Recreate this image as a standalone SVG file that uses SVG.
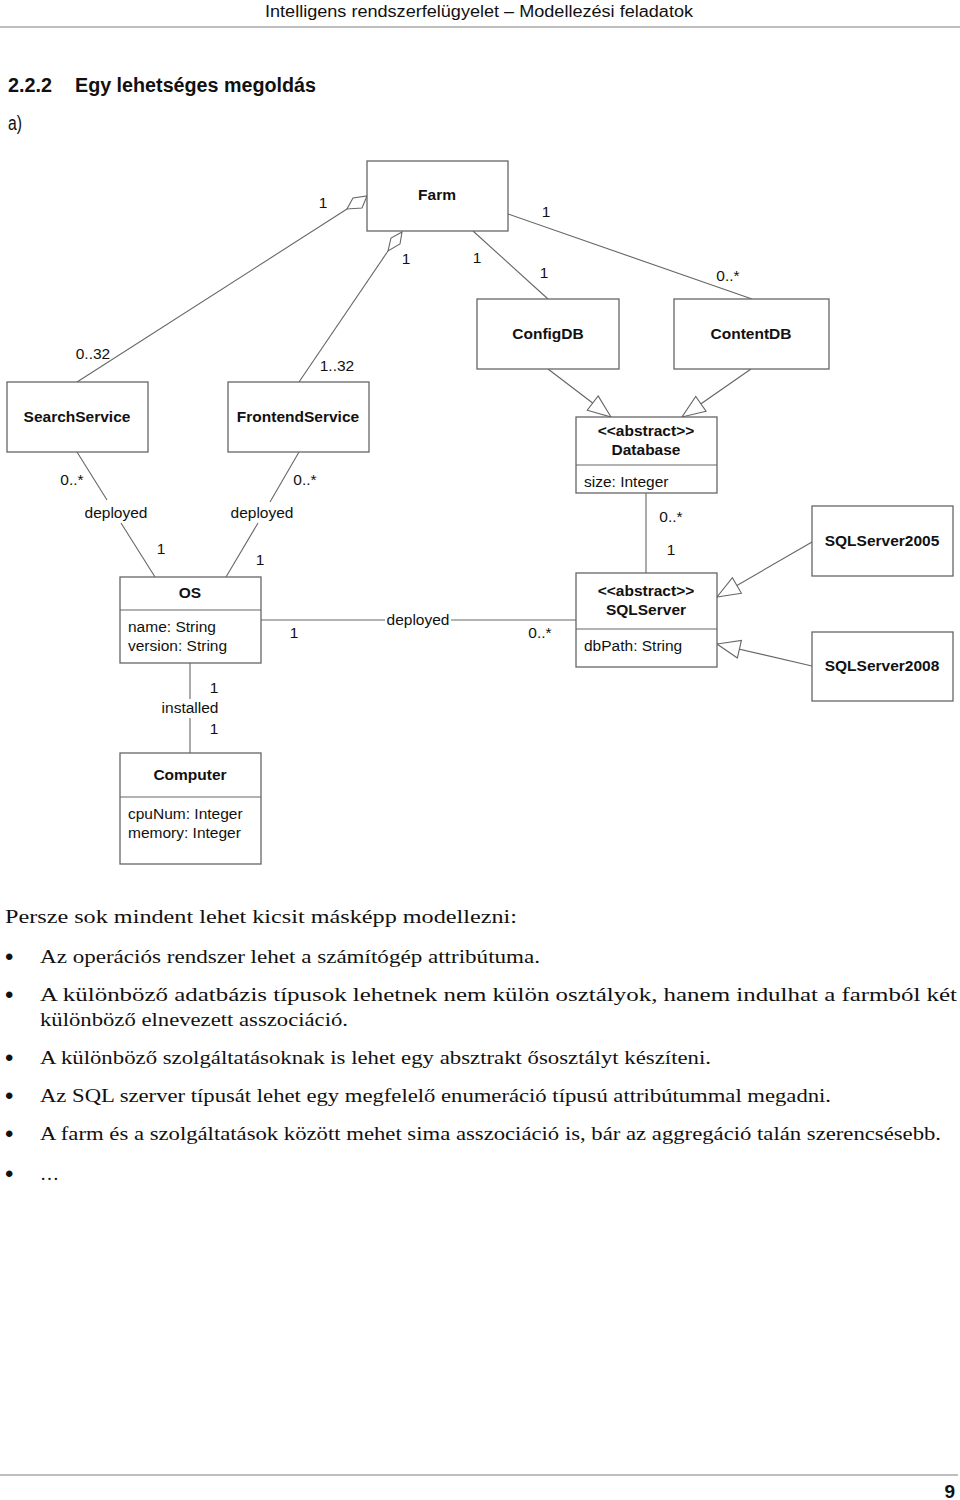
<svg xmlns="http://www.w3.org/2000/svg" width="960" height="1500" viewBox="0 0 960 1500">
<style>
.box{fill:#fff;stroke:#666;stroke-width:1.3}
.ln{fill:none;stroke:#666;stroke-width:1.1}
.t{font-family:"Liberation Sans",Arial,sans-serif;font-size:15.5px;fill:#111}
.b{font-weight:bold}
.c{text-anchor:middle}
.body{font-family:"Liberation Serif","DejaVu Serif",serif;font-size:19px;fill:#111}
.hdr{font-family:"Liberation Sans",Arial,sans-serif;fill:#111}
</style>
<defs>
<marker id="gen" markerUnits="userSpaceOnUse" markerWidth="25" markerHeight="20" refX="23" refY="9" orient="auto" overflow="visible">
<path d="M0,0 L23,9 L0,18 Z" fill="#fff" stroke="#666" stroke-width="1.1"/>
</marker>
</defs>
<rect width="960" height="1500" fill="#fff"/>

<g id="page">
<text class="hdr" x="265" y="17" font-size="16" textLength="428" lengthAdjust="spacingAndGlyphs">Intelligens rendszerfelügyelet – Modellezési feladatok</text>
<line x1="0" y1="27" x2="960" y2="27" stroke="#aaa" stroke-width="1.5"/>
<text class="hdr" x="8" y="92" font-size="20" font-weight="bold" textLength="44" lengthAdjust="spacingAndGlyphs">2.2.2</text>
<text class="hdr" x="75" y="92" font-size="20" font-weight="bold" textLength="241" lengthAdjust="spacingAndGlyphs">Egy lehetséges megoldás</text>
<text class="hdr" x="8" y="130" font-size="20" textLength="14" lengthAdjust="spacingAndGlyphs">a)</text>
<line x1="0" y1="1475" x2="958" y2="1475" stroke="#aaa" stroke-width="1.5"/>
<text class="hdr" x="955" y="1498" font-size="19" font-weight="bold" text-anchor="end">9</text>
</g>

<g id="connectors">
<line class="ln" x1="77" y1="382" x2="347" y2="209"/>
<polygon class="ln" fill="#fff" points="367,196 362,208 347,209 353,198"/>
<line class="ln" x1="299" y1="382" x2="388" y2="251"/>
<polygon class="ln" fill="#fff" points="402,232 391,238 388,251 400,244"/>
<line class="ln" x1="473" y1="231" x2="548" y2="299"/>
<line class="ln" x1="508" y1="214" x2="752" y2="299"/>
<line class="ln" x1="77" y1="452" x2="107" y2="500"/>
<line class="ln" x1="121" y1="523" x2="155" y2="577"/>
<line class="ln" x1="299" y1="452" x2="270" y2="502"/>
<line class="ln" x1="258" y1="523" x2="226" y2="577"/>
<line class="ln" x1="261" y1="620" x2="385" y2="620"/>
<line class="ln" x1="451" y1="620" x2="576" y2="620"/>
<line class="ln" x1="190" y1="663" x2="190" y2="699"/>
<line class="ln" x1="190" y1="718" x2="190" y2="753"/>
<line class="ln" x1="646" y1="493" x2="646" y2="573"/>
<line class="ln" x1="548" y1="369" x2="611" y2="417" marker-end="url(#gen)"/>
<line class="ln" x1="751" y1="369" x2="682" y2="417" marker-end="url(#gen)"/>
<line class="ln" x1="812" y1="542" x2="717" y2="597" marker-end="url(#gen)"/>
<line class="ln" x1="812" y1="666" x2="717" y2="644" marker-end="url(#gen)"/>
<text class="t c" x="323" y="208">1</text>
<text class="t c" x="546" y="217">1</text>
<text class="t c" x="406" y="264">1</text>
<text class="t c" x="477" y="263">1</text>
<text class="t c" x="544" y="278">1</text>
<text class="t c" x="728" y="281">0..*</text>
<text class="t c" x="93" y="359">0..32</text>
<text class="t c" x="337" y="371">1..32</text>
<text class="t c" x="72" y="485">0..*</text>
<text class="t c" x="305" y="485">0..*</text>
<text class="t c" x="116" y="518">deployed</text>
<text class="t c" x="262" y="518">deployed</text>
<text class="t c" x="671" y="522">0..*</text>
<text class="t c" x="161" y="554">1</text>
<text class="t c" x="260" y="565">1</text>
<text class="t c" x="671" y="555">1</text>
<text class="t c" x="418" y="625">deployed</text>
<text class="t c" x="294" y="638">1</text>
<text class="t c" x="540" y="638">0..*</text>
<text class="t c" x="214" y="693">1</text>
<text class="t c" x="190" y="713">installed</text>
<text class="t c" x="214" y="734">1</text>
</g>

<g id="Farm">
<rect class="box" x="367" y="161" width="141" height="70"/>
<text class="t b c" x="437" y="200">Farm</text>
</g>
<g id="ConfigDB">
<rect class="box" x="477" y="299" width="142" height="70"/>
<text class="t b c" x="548" y="339">ConfigDB</text>
</g>
<g id="ContentDB">
<rect class="box" x="674" y="299" width="155" height="70"/>
<text class="t b c" x="751" y="339">ContentDB</text>
</g>
<g id="SearchService">
<rect class="box" x="7" y="382" width="141" height="70"/>
<text class="t b c" x="77" y="422">SearchService</text>
</g>
<g id="FrontendService">
<rect class="box" x="228" y="382" width="141" height="70"/>
<text class="t b c" x="298" y="422">FrontendService</text>
</g>
<g id="Database">
<rect class="box" x="576" y="417" width="141" height="76"/>
<line class="ln" x1="576" y1="465" x2="717" y2="465"/>
<text class="t b c" x="646" y="436">&lt;&lt;abstract&gt;&gt;</text>
<text class="t b c" x="646" y="455">Database</text>
<text class="t" x="584" y="487">size: Integer</text>
</g>
<g id="SQLServer">
<rect class="box" x="576" y="573" width="141" height="94"/>
<line class="ln" x1="576" y1="629" x2="717" y2="629"/>
<text class="t b c" x="646" y="596">&lt;&lt;abstract&gt;&gt;</text>
<text class="t b c" x="646" y="615">SQLServer</text>
<text class="t" x="584" y="651">dbPath: String</text>
</g>
<g id="SQLServer2005">
<rect class="box" x="812" y="506" width="141" height="70"/>
<text class="t b c" x="882" y="546">SQLServer2005</text>
</g>
<g id="SQLServer2008">
<rect class="box" x="812" y="632" width="141" height="69"/>
<text class="t b c" x="882" y="671">SQLServer2008</text>
</g>
<g id="OS">
<rect class="box" x="120" y="577" width="141" height="86"/>
<line class="ln" x1="120" y1="610" x2="261" y2="610"/>
<text class="t b c" x="190" y="598">OS</text>
<text class="t" x="128" y="632">name: String</text>
<text class="t" x="128" y="651">version: String</text>
</g>
<g id="Computer">
<rect class="box" x="120" y="753" width="141" height="111"/>
<line class="ln" x1="120" y1="797" x2="261" y2="797"/>
<text class="t b c" x="190" y="780">Computer</text>
<text class="t" x="128" y="819">cpuNum: Integer</text>
<text class="t" x="128" y="838">memory: Integer</text>
</g>

<g id="text">
<text class="body" x="5" y="923" textLength="512" lengthAdjust="spacingAndGlyphs">Persze sok mindent lehet kicsit másképp modellezni:</text>
<g font-family="Liberation Sans,sans-serif" font-size="24" fill="#111">
<text x="5" y="965">•</text>
<text x="5" y="1003">•</text>
<text x="5" y="1066">•</text>
<text x="5" y="1104">•</text>
<text x="5" y="1142">•</text>
<text x="5" y="1182">•</text>
</g>
<text class="body" x="40" y="963" textLength="500" lengthAdjust="spacingAndGlyphs">Az operációs rendszer lehet a számítógép attribútuma.</text>
<text class="body" x="40" y="1001" textLength="917" lengthAdjust="spacingAndGlyphs">A különböző adatbázis típusok lehetnek nem külön osztályok, hanem indulhat a farmból két</text>
<text class="body" x="40" y="1026" textLength="308" lengthAdjust="spacingAndGlyphs">különböző elnevezett asszociáció.</text>
<text class="body" x="40" y="1064" textLength="671" lengthAdjust="spacingAndGlyphs">A különböző szolgáltatásoknak is lehet egy absztrakt ősosztályt készíteni.</text>
<text class="body" x="40" y="1102" textLength="791" lengthAdjust="spacingAndGlyphs">Az SQL szerver típusát lehet egy megfelelő enumeráció típusú attribútummal megadni.</text>
<text class="body" x="40" y="1140" textLength="901" lengthAdjust="spacingAndGlyphs">A farm és a szolgáltatások között mehet sima asszociáció is, bár az aggregáció talán szerencsésebb.</text>
<text class="body" x="40" y="1180">…</text>
</g>
</svg>
